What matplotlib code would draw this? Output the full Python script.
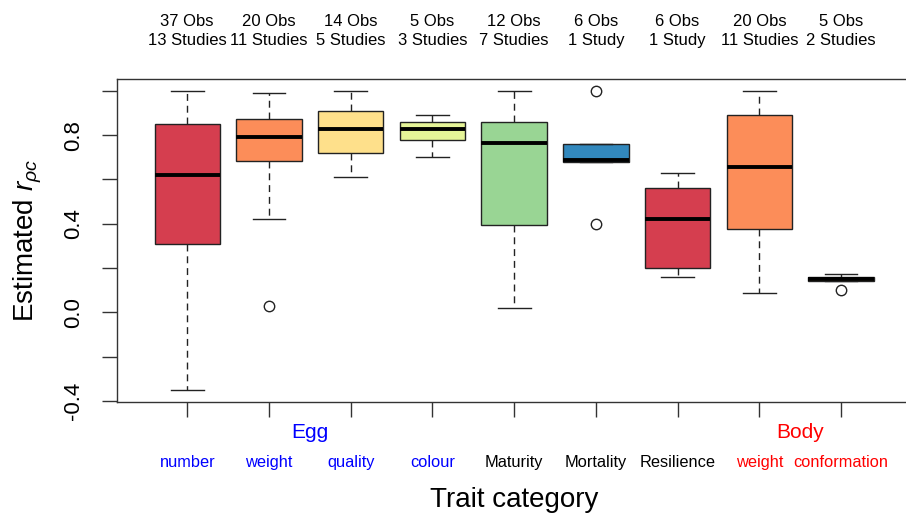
import matplotlib.pyplot as plt

plt.rcParams['font.family'] = ['Liberation Sans', 'DejaVu Sans']
plt.rcParams['mathtext.fontset'] = 'custom'
plt.rcParams['mathtext.rm'] = 'Liberation Sans'
plt.rcParams['mathtext.it'] = 'Liberation Sans:italic'

# --- Data ---
labels = ["number", "weight", "quality", "colour", "Maturity",
          "Mortality", "Resilience", "weight", "conformation"]
label_colors = ["blue"] * 4 + ["black"] * 3 + ["red"] * 2
obs = [37, 20, 14, 5, 12, 6, 6, 20, 5]
studies = [13, 11, 5, 3, 7, 1, 1, 11, 2]

whislo = [-0.35, 0.42, 0.61, 0.70, 0.02, 0.68, 0.16, 0.087, 0.141]
q1 = [0.31, 0.685, 0.72, 0.78, 0.396, 0.68, 0.20, 0.377, 0.141]
med = [0.62, 0.79, 0.827, 0.83, 0.766, 0.688, 0.42, 0.656, 0.15]
q3 = [0.85, 0.875, 0.91, 0.86, 0.86, 0.76, 0.56, 0.89, 0.16]
whishi = [1.0, 0.99, 1.0, 0.89, 1.0, 0.76, 0.63, 1.0, 0.173]
fliers = [[], [0.03], [], [], [], [1.0, 0.40], [], [], [0.10]]

groups = [("Egg", 2.5, "blue"), ("Body", 8.5, "red")]
palette = ["#D53E4F", "#FC8D59", "#FEE08B", "#E6F598", "#99D594", "#3288BD"]

EDGE = "#222222"


def build_stats():
    stats = []
    for i in range(len(labels)):
        stats.append(dict(med=med[i], q1=q1[i], q3=q3[i],
                          whislo=whislo[i], whishi=whishi[i],
                          fliers=fliers[i], label=labels[i]))
    return stats


def plot(filename="out.png"):
    fig = plt.figure(figsize=(9.06, 5.13), dpi=100)
    ax = fig.add_axes([0.1291, 0.217, 0.8768, 0.629])

    positions = list(range(1, len(labels) + 1))
    res = ax.bxp(build_stats(), positions=positions, widths=0.8,
                 patch_artist=True, showfliers=True,
                 boxprops=dict(edgecolor=EDGE, linewidth=1.0),
                 medianprops=dict(color="black", linewidth=2.8,
                                  solid_capstyle="butt"),
                 whiskerprops=dict(color=EDGE, linewidth=1.0,
                                   linestyle=(0, (5, 3.5))),
                 capprops=dict(color=EDGE, linewidth=1.0),
                 flierprops=dict(marker="o", markerfacecolor="none",
                                 markeredgecolor=EDGE, markersize=7.5,
                                 markeredgewidth=1.0))
    for i, box in enumerate(res["boxes"]):
        box.set_facecolor(palette[i % len(palette)])

    ax.set_xlim(0.14, 9.86)
    ax.set_ylim(-0.404, 1.054)

    ax.set_xticks(positions)
    ax.set_xticklabels([""] * len(positions))
    yt = [-0.4, -0.2, 0.0, 0.2, 0.4, 0.6, 0.8, 1.0]
    ax.set_yticks(yt)
    ax.set_yticklabels(["-0.4", "", "0.0", "", "0.4", "", "0.8", ""],
                       rotation=90, va="center", fontsize=16)
    ax.tick_params(axis="both", length=10.5, width=1.0, color="#333333")
    ax.tick_params(axis="y", pad=13)
    for sp in ax.spines.values():
        sp.set_color("#333333")
        sp.set_linewidth(1.0)

    xt = ax.get_xaxis_transform()
    for i, p in enumerate(positions):
        study_txt = "1 Study" if studies[i] == 1 else f"{studies[i]} Studies"
        ax.text(p, 1.178, f"{obs[i]} Obs", transform=xt, ha="center",
                va="center", fontsize=12)
        ax.text(p, 1.118, study_txt, transform=xt, ha="center",
                va="center", fontsize=12)
        ax.text(p, -0.187, labels[i], transform=xt, ha="center",
                va="center", fontsize=11.8, color=label_colors[i])

    for name, x, col in groups:
        ax.text(x, -0.094, name, transform=xt, ha="center", va="center",
                fontsize=15, color=col)

    ax.text(0.5, -0.305, "Trait category", transform=ax.transAxes,
            ha="center", va="center", fontsize=20)
    ax.text(-0.112, 0.5, r"Estimated $r_{\rho c}$", transform=ax.transAxes,
            ha="center", va="center", rotation=90, fontsize=20)

    fig.savefig(filename, dpi=100)
    plt.close(fig)


if __name__ == "__main__":
    plot()
